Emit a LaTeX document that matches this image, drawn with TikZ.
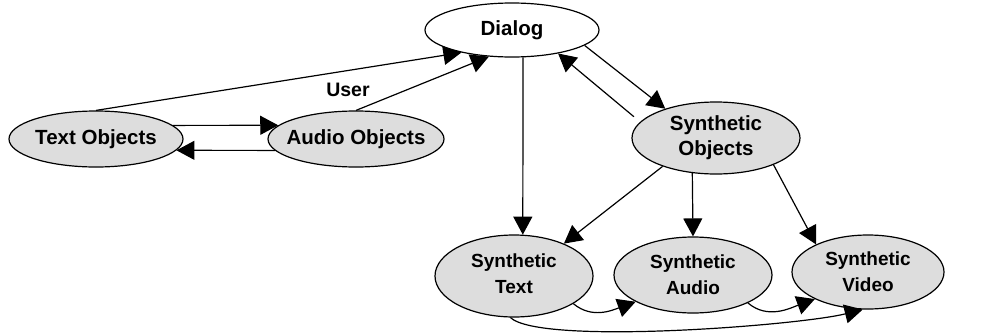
\documentclass[tikz,border=0pt]{standalone}
\usepackage{fontspec}
\setmainfont{Liberation Sans}
\usetikzlibrary{shapes.geometric,arrows.meta}
\definecolor{objfill}{RGB}{221,221,221}
\begin{document}
\begin{tikzpicture}[x=1pt,y=-1pt,
  obj/.style={ellipse,draw,line width=1.2pt,fill=objfill,inner sep=0pt},
  bigtxt/.style={font=\bfseries\fontsize{20.5}{24}\selectfont,align=center},
  smalltxt/.style={font=\bfseries\fontsize{19}{26}\selectfont,align=center},
  arr/.style={line width=1.2pt,-{Triangle[length=18pt,width=19pt]}}]
\useasboundingbox (0,0) rectangle (993,335);
\node[obj,fill=white,minimum width=174pt,minimum height=54pt,
  label={[bigtxt]center:Dialog}] (dialog) at (512,30) {};
\node[obj,minimum width=174pt,minimum height=56pt,
  label={[bigtxt]center:Text Objects}] (textobj) at (96,139) {};
\node[obj,minimum width=176pt,minimum height=56pt,
  label={[bigtxt]center:Audio Objects}] (audioobj) at (356,139) {};
\node[obj,minimum width=168pt,minimum height=72pt,
  label={[bigtxt,font=\bfseries\fontsize{20.5}{25}\selectfont]center:Synthetic\\Objects}] (synobj) at (716,138) {};
\node[obj,minimum width=158pt,minimum height=82pt,
  label={[smalltxt,yshift=2pt]center:Synthetic\\Text}] (stext) at (514,276) {};
\node[obj,minimum width=158pt,minimum height=76pt,
  label={[smalltxt]center:Synthetic\\Audio}] (saudio) at (693,275) {};
\node[obj,minimum width=152pt,minimum height=74pt,
  label={[smalltxt]center:Synthetic\\Video}] (svideo) at (868,272) {};
\node[smalltxt,font=\bfseries\fontsize{19.5}{24}\selectfont] (user) at (348,90) {User};

\draw[arr] (textobj.north) -- (dialog.204);
\draw[arr] (audioobj.north) -- (dialog.229);
\draw[arr] (textobj.10) -- (audioobj.170);
\draw[arr] (audioobj.188) -- (textobj.352);
\draw[arr] (dialog.348) -- (synobj.150);
\draw[arr,shorten <=8pt] (synobj.168) -- (dialog.333);
\draw[arr] (dialog.292) -- (stext.78);
\draw[arr] (synobj.208) -- (stext.33);
\draw[arr] (synobj.236) -- (saudio.north);
\draw[arr] (synobj.335) -- (svideo.152);
\draw[arr] (stext.335) to[out=-40,in=200] (saudio.205);
\draw[arr] (saudio.333) to[out=-40,in=200] (svideo.207);
\draw[arr] (stext.265) .. controls +(30,28) and +(-64,16) .. (svideo.262);
\end{tikzpicture}
\end{document}
